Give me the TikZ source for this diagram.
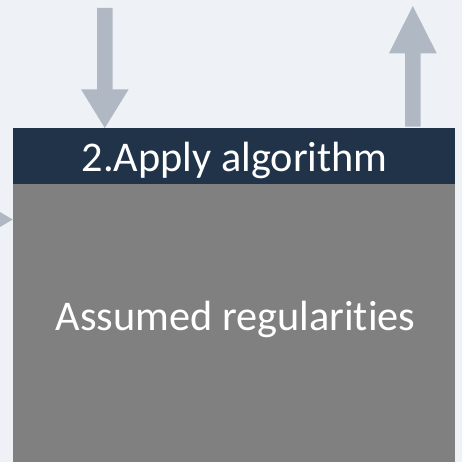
\documentclass[tikz,border=0pt]{standalone}
\usepackage{fontspec}
\setmainfont[RawFeature={-liga;-clig;-calt;-dlig}]{Carlito}
\definecolor{bgcol}{HTML}{EEF2F7}
\definecolor{arrowcol}{HTML}{B0B8C3}
\definecolor{headcol}{HTML}{203349}
\definecolor{bodycol}{HTML}{808080}
\tikzset{
  flowarrow/.style={fill=arrowcol, draw=none},
  lbl/.style={text=white, anchor=base, inner sep=0pt, font=\fontsize{42.3}{48}\selectfont},
}
\begin{document}
\begin{tikzpicture}[x=1pt,y=-1pt]
  % canvas
  \fill[bgcol] (0,0) rectangle (462,462);
  \useasboundingbox (0,0) rectangle (462,462);

  % step box: title bar and body
  \node[fill=headcol, draw=none, minimum width=442.3pt, minimum height=56pt, inner sep=0pt, anchor=north west] (head) at (12.7,127.7) {};
  \node[fill=bodycol, draw=none, minimum width=442.3pt, minimum height=278.3pt, inner sep=0pt, anchor=north west] (body) at (12.7,183.7) {};

  \node[lbl] (title) at (234.7,171.7) {2.Apply algorithm};
  \node[lbl] (reg) at (235.5,330) {Assumed regularities};

  % incoming arrow from above
  \path[flowarrow] (97,8) -- (112.7,8) -- (112.7,89.3) -- (128.7,89.3) -- (104.8,128) -- (81,89.3) -- (97,89.3) -- cycle;

  % outgoing arrow upwards
  \path[flowarrow] (405,126.7) -- (420.7,126.7) -- (420.7,53.3) -- (436.7,53.3) -- (412.8,6) -- (389,53.3) -- (405,53.3) -- cycle;

  % arrow entering from the left
  \path[flowarrow] (0,212) -- (12.7,219.5) -- (0,227) -- cycle;
\end{tikzpicture}
\end{document}
